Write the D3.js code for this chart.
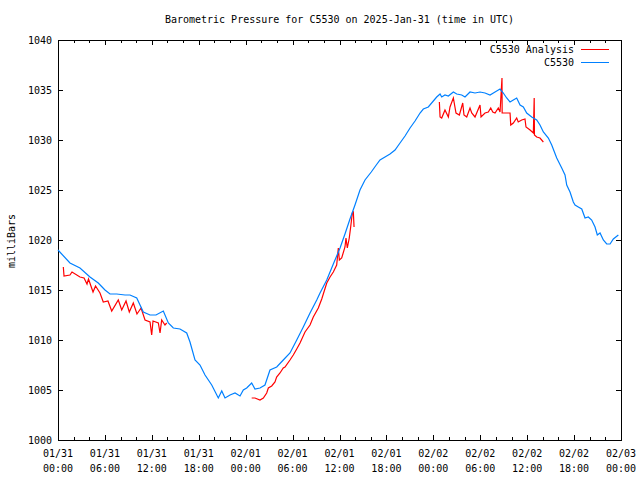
<!DOCTYPE html>
<html>
<head>
<meta charset="utf-8">
<script src="https://cdn.jsdelivr.net/npm/d3@7"></script>
<style>
  html, body { margin: 0; padding: 0; background: #fff; }
  svg { display: block; }
  text { font-family: "DejaVu Sans Mono", "Liberation Mono", monospace; font-size: 10px; fill: #000; }
</style>
</head>
<body>
<svg id="chart" width="640" height="480"></svg>
<script>
// ---- data (hours since 2025-01-31 00:00 UTC) ----
const obsHours = [0, 1.53, 2.81, 4.09, 5.15, 6.01, 6.65, 7.51, 8.57, 9.21, 10.07, 10.91, 11.77, 12.53, 13.47, 14.11, 14.75, 15.6, 16.46, 16.88, 17.52, 18.16, 18.8, 19.66, 20.5, 20.94, 21.36, 22.0, 22.64, 23.28, 23.7, 24.13, 24.77, 25.19, 25.83, 26.47, 27.11, 27.97, 28.81, 29.67, 30.53, 31.37, 32.23, 33.09, 33.51, 34.37, 35.21, 36.07, 36.7, 37.34, 37.98, 38.62, 39.26, 40.06, 40.7, 41.18, 41.82, 42.46, 43.1, 43.74, 44.38, 45.02, 45.66, 46.3, 46.72, 47.36, 48.43, 48.86, 49.07, 49.49, 49.92, 50.56, 50.99, 51.63, 52.05, 52.69, 53.33, 53.97, 54.61, 55.25, 55.89, 56.53, 56.95, 57.38, 57.81, 58.23, 58.66, 59.09, 59.51, 59.94, 60.58, 61.22, 61.64, 62.07, 62.71, 63.14, 63.78, 64.42, 64.84, 65.06, 65.48, 65.9, 66.12, 66.54, 66.98, 67.4, 67.82, 68.25, 68.68, 68.97, 69.32, 69.74, 70.17, 70.6, 71.02, 71.66];
const obsValues = [1019.0, 1017.7, 1017.2, 1016.3, 1015.7, 1015.0, 1014.6, 1014.6, 1014.5, 1014.5, 1014.2, 1012.8, 1012.5, 1012.5, 1012.9, 1011.7, 1011.2, 1011.1, 1010.7, 1009.8, 1008.0, 1007.5, 1006.5, 1005.5, 1004.2, 1004.9, 1004.2, 1004.5, 1004.7, 1004.4, 1005.0, 1005.2, 1005.7, 1005.1, 1005.2, 1005.5, 1007.0, 1007.3, 1008.0, 1008.7, 1010.0, 1011.3, 1012.7, 1014.0, 1014.7, 1016.0, 1017.6, 1019.2, 1020.6, 1022.1, 1023.5, 1025.0, 1026.0, 1026.8, 1027.5, 1028.0, 1028.3, 1028.6, 1029.0, 1029.7, 1030.4, 1031.2, 1031.9, 1032.7, 1033.1, 1033.3, 1034.3, 1034.6, 1034.3, 1034.5, 1034.4, 1034.8, 1034.6, 1034.5, 1034.3, 1034.8, 1034.7, 1034.8, 1034.7, 1034.5, 1034.8, 1035.1, 1034.7, 1034.2, 1033.8, 1034.0, 1034.2, 1033.5, 1033.3, 1032.7, 1032.3, 1032.0, 1031.5, 1030.8, 1030.2, 1029.5, 1028.2, 1027.2, 1026.5, 1025.5, 1024.8, 1023.8, 1023.5, 1023.3, 1023.1, 1022.2, 1022.3, 1022.0, 1021.3, 1020.5, 1020.7, 1020.0, 1019.6, 1019.6, 1020.1, 1020.5];

// analysis: null entries mark gaps between segments
const anaHours = [0.68, 0.77, 1.53, 1.79, 2.81, 3.33, 3.71, 3.9, 4.48, 4.8, 5.37, 5.79, 6.39, 6.87, 7.71, 8.15, 8.7, 9.12, 9.63, 10.1, 10.62, 11.13, 11.77, 11.98, 12.15, 12.83, 13.05, 13.26, 13.68, 13.9,
  null,
  24.77, 25.19, 25.83, 26.26, 26.69, 26.9, 27.33, 27.75, 27.96, 28.39, 28.81, 29.03, 29.67, 30.09, 30.53, 30.95, 31.59, 32.23, 32.65, 33.29, 33.73, 34.37, 34.79, 35.21, 35.64, 35.85, 35.98, 36.28, 36.7, 36.83, 37.0, 37.25, 37.43, 37.64, 37.77, 37.86,
  null,
  48.77, 48.86, 49.07, 49.49, 49.92, 50.13, 50.56, 50.9, 51.33, 51.76, 51.92, 52.27, 52.69, 52.91, 53.33, 53.97, 54.1, 54.61, 55.03, 55.34, 55.6, 55.89, 56.31, 56.53, 56.78, 56.8, 57.17, 57.81, 57.9, 58.23, 58.66, 58.86, 59.3, 59.72, 59.85, 60.37, 60.79, 60.9, 60.93, 61.22, 61.64, 62.07];
const anaValues = [1017.3, 1016.4, 1016.5, 1016.8, 1016.3, 1016.2, 1015.6, 1016.1, 1014.8, 1015.4, 1014.7, 1013.8, 1013.9, 1012.9, 1014.0, 1013.0, 1013.9, 1012.8, 1013.7, 1012.6, 1013.2, 1012.0, 1011.8, 1010.5, 1011.9, 1011.7, 1010.7, 1012.0, 1011.5, 1011.7,
  null,
  1004.2, 1004.2, 1004.0, 1004.2, 1004.7, 1005.2, 1005.4, 1005.8, 1006.3, 1006.7, 1007.2, 1007.3, 1008.0, 1008.5, 1009.1, 1009.7, 1010.8, 1011.5, 1012.3, 1013.2, 1014.1, 1015.7, 1016.3, 1016.8, 1017.5, 1019.2, 1018.0, 1018.2, 1019.3, 1020.2, 1019.2, 1020.2, 1021.3, 1022.7, 1022.8, 1021.3,
  null,
  1033.8, 1032.3, 1032.2, 1033.0, 1032.3, 1033.3, 1034.2, 1032.7, 1032.5, 1033.7, 1032.5, 1032.3, 1033.2, 1032.7, 1032.3, 1033.5, 1032.3, 1032.7, 1032.8, 1033.2, 1032.8, 1032.7, 1033.2, 1032.8, 1036.2, 1032.7, 1032.7, 1032.7, 1031.5, 1031.7, 1032.2, 1031.8, 1032.0, 1032.1, 1031.3, 1031.0, 1030.7, 1034.2, 1030.5, 1030.3, 1030.2, 1029.8];

const yTicks = [1000, 1005, 1010, 1015, 1020, 1025, 1030, 1035, 1040];
const xLabelHours = [0, 6, 12, 18, 24, 30, 36, 42, 48, 54, 60, 66, 72];
const xDateLabels = ["01/31", "01/31", "01/31", "01/31", "02/01", "02/01", "02/01", "02/01", "02/02", "02/02", "02/02", "02/02", "02/03"];
const xTimeLabels = ["00:00", "06:00", "12:00", "18:00", "00:00", "06:00", "12:00", "18:00", "00:00", "06:00", "12:00", "18:00", "00:00"];
const seriesNames = ["C5530 Analysis", "C5530"];
const seriesColors = ["#ff0000", "#0080ff"];

// ---- layout ----
const L = 58, R = 621, T = 40, B = 440;
const svg = d3.select("#chart");

const x = d3.scaleLinear().domain([0, 72]).range([L, R]);
const y = d3.scaleLinear().domain([1000, 1040]).range([B, T]);

// minor ticks every 2 hours
const minorHours = d3.range(0, 73, 2).filter(h => h % 6 !== 0);

const axisG = svg.append("g").attr("shape-rendering", "crispEdges");

// bottom axis
const bottom = d3.axisBottom(x).tickValues(xLabelHours).tickSizeInner(-5).tickSizeOuter(0).tickFormat("");
axisG.append("g").attr("transform", `translate(0,${B})`).call(bottom).call(g => g.select(".domain").remove());
axisG.append("g").attr("transform", `translate(0,${B})`)
  .call(d3.axisBottom(x).tickValues(minorHours).tickSizeInner(-3).tickSizeOuter(0).tickFormat(""))
  .call(g => g.select(".domain").remove());
// top mirrored
axisG.append("g").attr("transform", `translate(0,${T})`)
  .call(d3.axisTop(x).tickValues(xLabelHours).tickSizeInner(-5).tickSizeOuter(0).tickFormat(""))
  .call(g => g.select(".domain").remove());
axisG.append("g").attr("transform", `translate(0,${T})`)
  .call(d3.axisTop(x).tickValues(minorHours).tickSizeInner(-3).tickSizeOuter(0).tickFormat(""))
  .call(g => g.select(".domain").remove());
// left / right
axisG.append("g").attr("transform", `translate(${L},0)`)
  .call(d3.axisLeft(y).tickValues(yTicks).tickSizeInner(-5).tickSizeOuter(0).tickFormat(""))
  .call(g => g.select(".domain").remove());
axisG.append("g").attr("transform", `translate(${R},0)`)
  .call(d3.axisRight(y).tickValues(yTicks).tickSizeInner(-5).tickSizeOuter(0).tickFormat(""))
  .call(g => g.select(".domain").remove());
axisG.selectAll(".tick line").attr("stroke", "#000");

// y labels
svg.append("g").selectAll("text").data(yTicks).join("text")
  .attr("x", L - 6).attr("y", d => y(d)).attr("dy", "0.35em")
  .attr("text-anchor", "end").text(d => d);

// x labels
const xl = svg.append("g").selectAll("text").data(xLabelHours).join("text")
  .attr("text-anchor", "middle").attr("x", d => x(d)).attr("y", B + 17);
xl.append("tspan").attr("x", d => x(d)).text((d, i) => xDateLabels[i]);
xl.append("tspan").attr("x", d => x(d)).attr("dy", 15).text((d, i) => xTimeLabels[i]);

// frame
svg.append("rect").attr("x", L + 0.5).attr("y", T + 0.5).attr("width", R - L).attr("height", B - T)
  .attr("fill", "none").attr("stroke", "#000").attr("stroke-width", 1).attr("shape-rendering", "crispEdges");

// lines
const obs = obsHours.map((h, i) => [h, obsValues[i]]);
const ana = anaHours.map((h, i) => [h, anaValues[i]]);
const line = d3.line().defined(d => d[0] !== null && d[1] !== null).x(d => x(d[0])).y(d => y(d[1]));

svg.append("path").datum(ana).attr("d", line).attr("fill", "none")
  .attr("stroke", seriesColors[0]).attr("stroke-width", 1.2);
svg.append("path").datum(obs).attr("d", line).attr("fill", "none")
  .attr("stroke", seriesColors[1]).attr("stroke-width", 1.2);

// title
svg.append("text").attr("x", (L + R) / 2).attr("y", 23).attr("text-anchor", "middle")
  .text("Barometric Pressure for C5530 on 2025-Jan-31 (time in UTC)");

// y axis title
svg.append("text").attr("transform", "translate(15,241) rotate(-90)").attr("text-anchor", "middle")
  .text("milliBars");

// legend
const leg = svg.append("g");
seriesNames.forEach((name, i) => {
  const yy = 49 + i * 13;
  leg.append("text").attr("x", 574).attr("y", yy).attr("dy", "0.35em").attr("text-anchor", "end").text(name);
  leg.append("line").attr("x1", 581).attr("x2", 609).attr("y1", yy + 0.5).attr("y2", yy + 0.5)
    .attr("stroke", seriesColors[i]).attr("stroke-width", 1).attr("shape-rendering", "crispEdges");
});
</script>
</body>
</html>
